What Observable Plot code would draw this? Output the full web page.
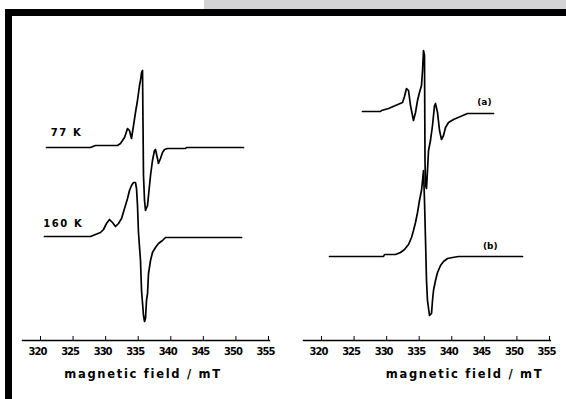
<!DOCTYPE html>
<html><head><meta charset="utf-8">
<script src="https://cdn.jsdelivr.net/npm/d3@7"></script>
<script src="https://cdn.jsdelivr.net/npm/@observablehq/plot@0.6"></script>
<style>
html,body{margin:0;padding:0;background:#fff;}
#fig{position:relative;width:566px;height:399px;overflow:hidden;background:#fff;color:#000;}
#band{position:absolute;left:204px;top:0;width:362px;height:9px;background:#d3d3d5;}
#frame{position:absolute;left:5px;top:9px;width:600px;height:420px;border-top:7px solid #000;border-left:7px solid #000;box-sizing:border-box;pointer-events:none;}
#left{position:absolute;left:0;top:0;}
#right{position:absolute;left:290px;top:0;}
svg{color:#000;}
</style></head><body>
<div id="fig"><div id="band"></div><div id="left"></div><div id="right"></div><div id="frame"></div></div>
<script>
// ---- data ----
const fieldTicks = [320, 325, 330, 335, 340, 345, 350, 355];
const axisTitle = "magnetic field / mT";

const field77 = [320.92, 327.68, 328.44, 331.82, 332.28, 332.90, 333.36, 333.66, 333.97, 334.28, 334.58, 334.89, 335.20, 335.35, 335.51, 335.66, 335.81, 335.97, 336.12, 336.43, 336.58, 336.89, 337.19, 337.50, 337.65, 337.96, 338.11, 338.42, 338.73, 339.04, 339.50, 342.26, 342.41, 351.16];
const signal77 = [0, 0, 2, 2, 4, 10, 19, 17, 9, 22, 35, 47, 62, 67, 75, 77, -28, -53, -63, -58, -48, -28, -13, -3, -2, -11, -16, -11, -5, -2, -1, -1, 0, 0];

const field160 = [320.61, 327.68, 328.44, 329.21, 329.67, 330.13, 330.59, 331.05, 331.51, 331.97, 332.44, 332.90, 333.36, 333.66, 333.97, 334.28, 334.58, 334.74, 334.89, 335.04, 335.35, 335.51, 335.81, 335.97, 336.12, 336.27, 336.43, 336.58, 336.89, 337.19, 337.65, 338.11, 338.73, 339.19, 350.86];
const signal160 = [0, 0, 2, 4, 7, 13, 17, 14, 10, 13, 18, 28, 38, 46, 51, 54, 54, 48, 31, 4, -24, -54, -79, -85, -82, -64, -57, -37, -24, -16, -11, -7, -4, -1, -1];

const fieldA = [326.29, 329.06, 329.21, 330.29, 331.36, 332.44, 332.74, 333.05, 333.36, 333.66, 333.97, 334.12, 334.43, 334.74, 335.04, 335.35, 335.51, 335.66, 335.81, 335.89, 335.97, 336.12, 336.27, 336.43, 336.73, 337.04, 337.35, 337.50, 337.81, 338.12, 338.42, 338.73, 339.04, 339.50, 340.26, 341.34, 342.41, 346.41];
const signalA = [0, 0, 1, 3, 6, 9, 15, 23, 21, 6, -4, -9, -1, 11, 19, 26, 41, 61, 56, -49, -74, -77, -59, -39, -29, -14, 6, 8, -1, -19, -28, -24, -16, -11, -8, -5, -2, -2];

const fieldB = [321.23, 329.52, 329.67, 331.36, 332.13, 332.74, 333.36, 333.82, 334.12, 334.43, 334.74, 335.04, 335.35, 335.51, 335.66, 335.81, 335.97, 336.12, 336.27, 336.58, 336.89, 337.04, 337.19, 337.50, 337.81, 338.27, 338.73, 339.35, 340.11, 341.03, 350.86];
const signalB = [0, 0, 2, 2, 4, 7, 12, 19, 26, 34, 44, 56, 66, 76, 86, 56, 16, -24, -44, -59, -57, -44, -34, -24, -16, -9, -5, -2, -1, 0, 0];

const leftLabels = ["77 K", "160 K"];
const rightLabels = ["(a)", "(b)"];

// ---- drawing ----
function rows(field, signal, offset) {
  return field.map((f, i) => ({f, s: signal[i] + offset}));
}

function panel({width, ml, mr, base, traces, labels, titleDx, labelFont, labelSpacing}) {
  const svg = Plot.plot({
    width, height: 399,
    marginLeft: ml, marginRight: mr, marginTop: 0, marginBottom: 59,
    style: {background: "transparent", color: "#000", fontFamily: "'DejaVu Sans', sans-serif", overflow: "visible"},
    x: {domain: [320, 355]},
    y: {domain: [-300, 100], range: [base + 300, base - 100], axis: null},
    marks: [
      Plot.frame({anchor: "bottom", insetLeft: -18, insetRight: -1, strokeWidth: 1.3, stroke: "#000"}),
      Plot.axisX(fieldTicks, {tickSize: 4, dy: -4, tickFormat: () => "", label: null, stroke: "#000"}),
      Plot.axisX(fieldTicks, {tickSize: 0, tickPadding: 7, dx: -3, label: null, fontSize: 10, fill: "#000"}),
      Plot.text([axisTitle], {frameAnchor: "bottom", dy: 37, dx: titleDx, text: d => d, fontSize: 11.5, fill: "#000"}),
      ...traces.map(t => Plot.line(rows(t.field, t.signal, t.offset), {x: "f", y: "s", stroke: "#000", strokeWidth: 1.7})),
      Plot.text(labels, {x: "f", y: "s", text: "t", fontSize: labelFont, fill: "#000"})
    ]
  });
  const s = d3.select(svg);
  const tickText = new Set(fieldTicks.map(String));
  const labelText = new Set(labels.map(d => d.t));
  s.selectAll("text").style("font-weight", "bold").each(function() {
    const t = this.textContent;
    if (t === axisTitle) d3.select(this).style("letter-spacing", "1.7px");
    else if (tickText.has(t)) d3.select(this).style("letter-spacing", "-1px");
    else if (labelText.has(t)) d3.select(this).style("letter-spacing", labelSpacing);
  });
  return svg;
}

document.getElementById("left").append(panel({
  width: 290, ml: 40, mr: 22, base: 147, titleDx: -11.5, labelFont: 10, labelSpacing: "1.6px",
  traces: [
    {field: field77, signal: signal77, offset: 0},
    {field: field160, signal: signal160, offset: -89}
  ],
  labels: [
    {t: leftLabels[0], f: 324.0, s: 15},
    {t: leftLabels[1], f: 323.5, s: 13 - 89}
  ]
}));

document.getElementById("right").append(panel({
  width: 276, ml: 31, mr: 17, base: 111, titleDx: 29, labelFont: 9, labelSpacing: "0px",
  traces: [
    {field: fieldA, signal: signalA, offset: 0},
    {field: fieldB, signal: signalB, offset: -145}
  ],
  labels: [
    {t: rightLabels[0], f: 345.0, s: 9},
    {t: rightLabels[1], f: 345.9, s: 10 - 145}
  ]
}));
</script>
</body></html>
